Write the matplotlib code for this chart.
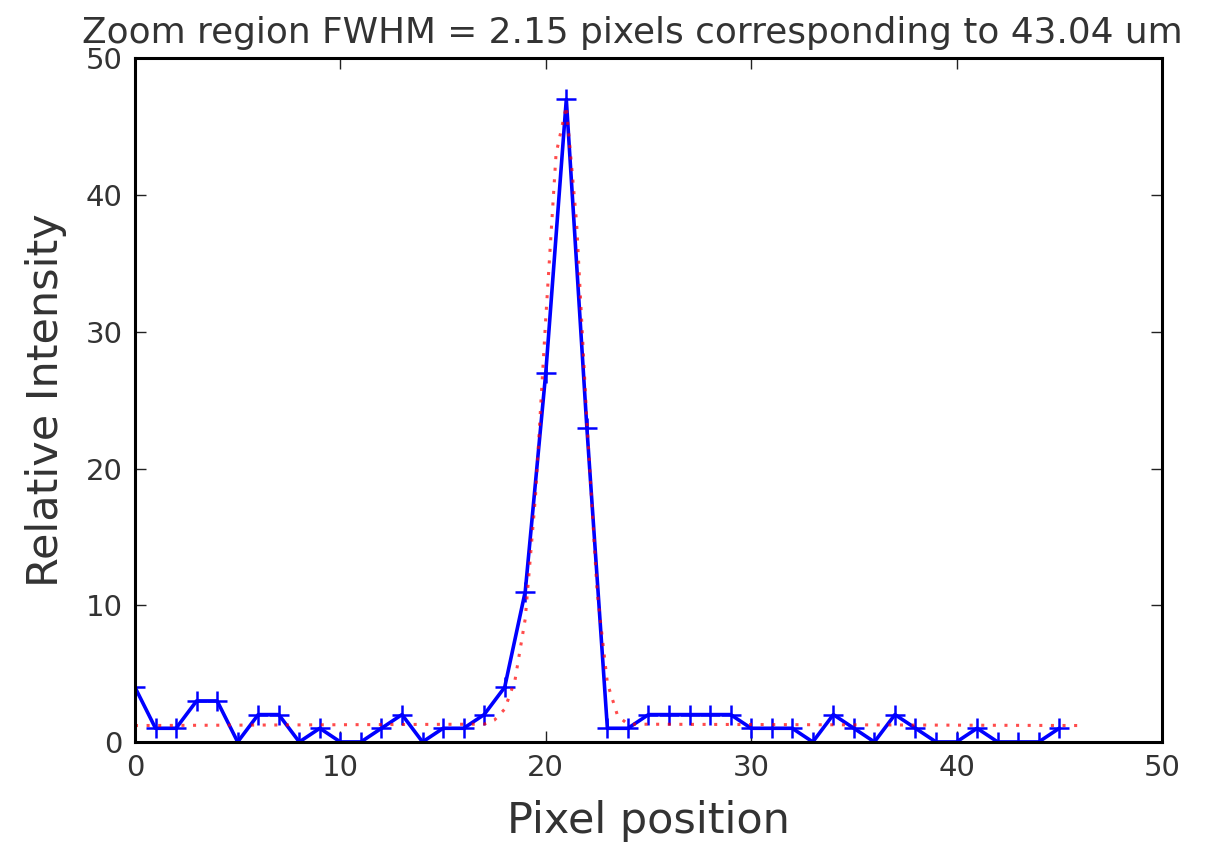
import numpy as np
from matplotlib import pyplot as plt

# measured profile (pixel index -> intensity)
pixel = list(range(46))
intensity = [4, 1, 1, 3, 3, 0, 2, 2, 0, 1,
             0, 0, 1, 2, 0, 1, 1, 2, 4, 11,
             27, 47, 23, 1, 1, 2, 2, 2, 2, 2,
             1, 1, 1, 0, 2, 1, 0, 2, 1, 0,
             0, 1, 0, 0, 0, 1]

# gaussian fit, values
fit_x = [0, 17, 17.5, 18, 18.5, 19, 19.5, 20, 20.5, 21, 21.5, 22, 22.5, 23, 23.5, 24, 46]
fit_y = [1.2, 1.3, 1.6, 2.4, 4.5, 9.0, 18.0, 31.0, 43.0, 46.5, 38.0, 23.5, 11.0, 4.3, 1.9, 1.3, 1.2]

fig = plt.figure(figsize=(12.27, 8.46), dpi=100)
ax = fig.add_axes([0.110, 0.123, 0.837, 0.808])

ax.plot(pixel, intensity, 'b-+', lw=2.6, ms=15, mew=1.8)
ax.plot(fit_x, fit_y, color='red', ls=(0, (1, 2.8)), lw=2.2, alpha=0.7)

ax.set_xlim(0, 50)
ax.set_ylim(0, 50)
ax.set_xticks([0, 10, 20, 30, 40, 50])
ax.set_yticks([0, 10, 20, 30, 40, 50])
ax.tick_params(direction='in', length=8, width=1.0, top=True, right=True,
               labelsize=21, pad=9, colors='#222222', labelcolor='#333333')
for s in ax.spines.values():
    s.set_linewidth(2.2)

ax.set_xlabel('Pixel position', fontsize=31, color='#333333', labelpad=13)
ax.set_ylabel('Relative Intensity', fontsize=31, color='#333333', labelpad=13)
ax.set_title('Zoom region FWHM = 2.15 pixels corresponding to 43.04 um',
             fontsize=25.8, color='#333333', pad=11, x=0.484)

fig.savefig('out.png', dpi=100)
